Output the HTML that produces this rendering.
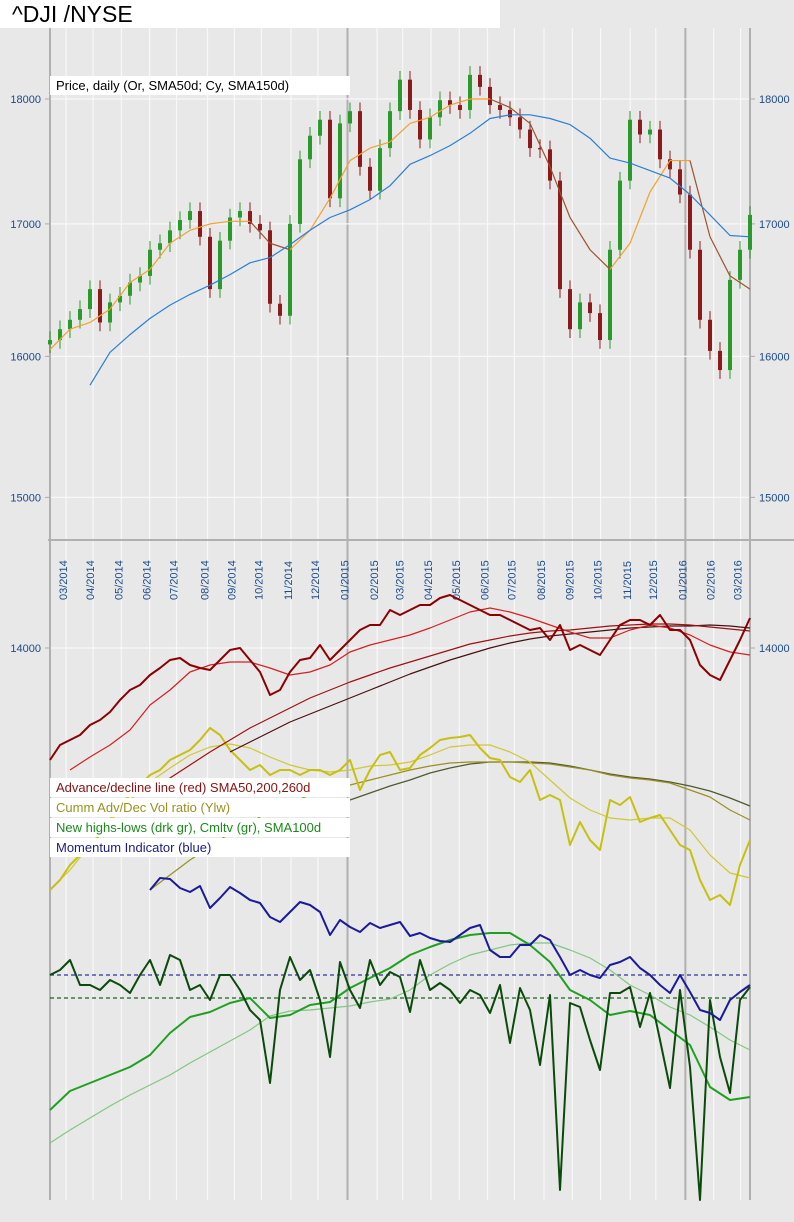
<!DOCTYPE html>
<html><head><meta charset="utf-8">
<style>
html,body{margin:0;padding:0;background:#e8e8e8;}
body{width:794px;height:1222px;overflow:hidden;position:relative;font-family:"Liberation Sans",sans-serif;}
#title{position:absolute;left:0;top:0;width:500px;height:28px;background:#fff;font-size:23px;line-height:28px;padding-left:12px;box-sizing:border-box;color:#000;}
svg{position:absolute;left:0;top:0;}
.lg{position:absolute;left:50px;width:300px;height:19px;background:#fff;font-size:13px;line-height:19px;padding-left:6px;box-sizing:border-box;}
</style></head>
<body>
<svg id="chart" width="794" height="1222"></svg>
<div id="title">^DJI /NYSE</div>
<div class="lg" style="top:76px;color:#000;">Price, daily (Or, SMA50d; Cy, SMA150d)</div>
<div class="lg" style="top:778px;color:#8b1010;">Advance/decline line (red) SMA50,200,260d</div>
<div class="lg" style="top:798px;color:#9a9020;">Cumm Adv/Dec Vol ratio (Ylw)</div>
<div class="lg" style="top:818px;color:#1a8a1a;">New highs-lows (drk gr), Cmltv (gr), SMA100d</div>
<div class="lg" style="top:838px;color:#1a1a8a;">Momentum Indicator (blue)</div>
<script>
// ---- data ----
const monthLabels=["03/2014","04/2014","05/2014","06/2014","07/2014","08/2014","09/2014","10/2014","11/2014","12/2014","01/2015","02/2015","03/2015","04/2015","05/2015","06/2015","07/2015","08/2015","09/2015","10/2015","11/2015","12/2015","01/2016","02/2016","03/2016"];
const monthDay=[12,32,53,74,94,117,137,157,179,199,221,243,262,283,304,325,345,367,388,409,431,450,472,493,513];
const priceTicks=[15000,16000,17000,18000];
const adTicks=[14000];
const priceClose=[16120,16200,16270,16350,16500,16250,16400,16450,16550,16600,16800,16850,16950,17030,17100,16900,16500,16870,17050,17100,17000,16950,16390,16300,17000,17510,17700,17830,17200,17800,17900,17450,17260,17600,17900,18160,17910,17670,17850,17990,17950,17910,18200,18100,17950,17910,17850,17750,17600,17590,17340,16500,16200,16400,16320,16120,16800,17340,17830,17710,17750,17510,17430,17230,16800,16270,16040,15900,16570,16800,17070];
const priceSma50=[16050,16200,16250,16350,16550,16650,16850,16950,17000,17020,17020,16850,16800,16950,17200,17500,17600,17650,17800,17850,17950,18000,18000,17930,17800,17450,17050,16800,16650,16850,17250,17500,17500,16900,16600,16500];
const priceSma150=[null,null,15790,16030,16160,16280,16380,16460,16530,16610,16700,16740,16840,16950,17050,17110,17190,17300,17470,17540,17620,17720,17840,17870,17870,17840,17790,17680,17520,17480,17420,17360,17230,17070,16910,16900];
const adLine=[12880,13030,13080,13130,13230,13280,13360,13480,13580,13630,13730,13800,13880,13900,13830,13800,13780,13880,13980,14000,13880,13760,13530,13580,13760,13880,13900,14030,13880,13980,14080,14180,14230,14230,14380,14330,14380,14430,14430,14500,14530,14480,14430,14380,14330,14330,14280,14230,14180,14200,14080,14230,13980,14030,13980,13930,14080,14230,14280,14280,14230,14330,14180,14180,14080,13830,13730,13680,13880,14080,14300];
const adSma50=[null,12780,12910,13030,13180,13430,13580,13760,13830,13860,13860,13800,13730,13760,13830,13960,14030,14080,14130,14200,14280,14360,14400,14360,14300,14230,14160,14100,14100,14180,14230,14200,14130,14030,13960,13930];
const adSma200=[null,null,null,null,null,12600,12700,12830,12960,13080,13200,13300,13400,13500,13580,13660,13730,13800,13860,13920,13980,14040,14080,14120,14150,14170,14180,14200,14220,14230,14240,14240,14230,14210,14190,14170];
const adSma260=[null,null,null,null,null,null,null,null,null,12960,13060,13160,13260,13340,13420,13500,13580,13660,13740,13810,13880,13940,14000,14050,14090,14120,14140,14160,14180,14200,14210,14220,14220,14230,14220,14200];
const volRatio=[10,20,35,45,55,65,80,95,105,115,125,130,140,145,150,160,172,165,150,140,130,135,125,130,130,125,130,130,125,130,140,110,130,145,148,130,132,145,152,160,162,163,165,152,142,140,123,118,130,100,105,100,55,78,60,50,100,95,103,78,82,85,70,55,50,20,0,5,-5,35,60];
const volSmaFast=[10,30,55,78,100,118,132,145,153,156,152,143,135,130,128,130,134,135,138,145,153,155,155,148,138,120,102,90,82,80,82,82,70,45,27,22];
const volSmaMid=[null,null,null,null,null,10,25,40,53,67,78,88,97,105,110,115,120,125,130,134,137,138,138,138,137,136,133,130,125,122,120,117,110,103,90,80];
const volSmaSlow=[null,null,null,null,null,null,null,null,null,null,null,null,null,null,null,100,107,114,120,127,132,136,138,138,138,137,134,130,126,123,121,118,114,109,102,94];
const momentum=[null,null,null,null,null,null,null,null,null,null,85,97,96,87,83,89,67,77,88,82,75,72,58,53,63,73,70,63,40,55,48,43,52,47,50,53,39,42,37,34,33,40,47,50,25,18,18,30,30,40,35,18,0,5,0,-3,10,13,18,7,0,-10,-18,0,-17,-35,-38,-45,-25,-17,-10];
const highsLows=[23,28,38,13,13,8,18,13,5,23,38,13,43,38,8,13,-2,23,23,8,-12,-22,-85,8,41,18,28,-2,-59,36,8,-10,38,13,26,21,-14,38,8,15,8,-5,8,3,-15,13,-45,10,-12,-67,3,-192,-5,-9,-42,-72,5,5,11,-29,5,-42,-90,8,-69,-202,-2,-59,-95,-2,11];
const hlCumulative=[90,109,117,125,133,145,167,183,188,197,202,182,185,195,198,212,222,232,245,253,260,265,267,267,255,238,210,200,185,189,185,170,155,113,100,103];
const hlSma100=[57,70,82,94,105,115,125,137,148,159,170,184,189,190,192,194,198,201,210,225,236,245,250,255,257,257,250,242,230,215,205,193,185,173,160,150];

// ---- layout / scales ----
const X0=50,X1=750,NDAYS=520;
const svg=document.getElementById('chart');
const NS='http://www.w3.org/2000/svg';
function el(tag,attrs,parent){const e=document.createElementNS(NS,tag);for(const k in attrs)e.setAttribute(k,attrs[k]);(parent||svg).appendChild(e);return e;}
function xIdx(i,n){return X0+i*(X1-X0)/(n-1);}
function xDay(d){return X0+d*(X1-X0)/NDAYS;}
const yPrice=v=>99+2185*Math.log(18000/v);
const yAD=v=>648-(v-14000)*0.1;
const yVol=v=>900-v;
const yMom=v=>975-v;
const yHL=v=>998-v;
const yCum=v=>1200-v;

el('rect',{x:0,y:0,width:794,height:1222,fill:'#e8e8e8'});
monthLabels.forEach((m,i)=>{
  const x=xDay(monthDay[i]);
  const yr=m.startsWith('01/');
  const g=el('line',{x1:x,x2:x,y1:28,y2:1200,stroke:yr?'#b0b0b0':'#f8f8f8','stroke-width':yr?2:1.2});
  
  
  const t=el('text',{x:0,y:0,transform:`translate(${x+1},600) rotate(-90)`,'font-size':'11','fill':'#1a4a8a','font-family':'Liberation Sans, sans-serif'});
  t.textContent=m;
  
  
});
priceTicks.forEach(v=>{
  const y=yPrice(v);
  const l=el('line',{x1:X0,x2:X1,y1:y,y2:y,stroke:'#f8f8f8','stroke-width':1.2});
  
  
  el('line',{x1:45,x2:50,y1:y,y2:y,stroke:'#aaa'});
  el('line',{x1:750,x2:755,y1:y,y2:y,stroke:'#aaa'});
  const a=el('text',{x:41,y:y+4,'text-anchor':'end','font-size':'11',fill:'#1a4a8a'});a.textContent=v;
  
  
  const b=el('text',{x:759,y:y+4,'font-size':'11',fill:'#1a4a8a'});b.textContent=v;
  
  
});
adTicks.forEach(v=>{
  const y=yAD(v);
  el('line',{x1:X0,x2:X1,y1:y,y2:y,stroke:'#f8f8f8','stroke-width':1.2});
  el('line',{x1:45,x2:50,y1:y,y2:y,stroke:'#aaa'});
  el('line',{x1:750,x2:755,y1:y,y2:y,stroke:'#aaa'});
  const a=el('text',{x:41,y:y+4,'text-anchor':'end','font-size':'11',fill:'#1a4a8a'});a.textContent=v;
  
  
  const b=el('text',{x:759,y:y+4,'font-size':'11',fill:'#1a4a8a'});b.textContent=v;
  
  
});
el('line',{x1:50,x2:50,y1:28,y2:1200,stroke:'#b0b0b0','stroke-width':2});
el('line',{x1:750,x2:750,y1:28,y2:1200,stroke:'#b0b0b0','stroke-width':2});
el('line',{x1:48,x2:794,y1:540,y2:540,stroke:'#b0b0b0','stroke-width':2});

function line(arr,yf,color,w,name,dash){
  let d='',pen=false;
  arr.forEach((v,i)=>{if(v===null){pen=false;return;}d+=(pen?'L':'M')+xIdx(i,arr.length).toFixed(1)+' '+yf(v).toFixed(1);pen=true;});
  const p=el('path',{d:d,fill:'none',stroke:color,'stroke-width':w,'stroke-linejoin':'round'});
  if(dash)p.setAttribute('stroke-dasharray',dash);
  
  
  return p;
}

priceClose.forEach((c,i)=>{
  const o=i>0?priceClose[i-1]:c*0.998;
  const x=xIdx(i,priceClose.length);
  const hi=Math.max(o,c)*1.004,lo=Math.min(o,c)*0.996;
  const col=c>=o?'#2a9a2a':'#8b1a1a';
  const w=el('line',{x1:x,x2:x,y1:yPrice(hi),y2:yPrice(lo),stroke:col,'stroke-width':1});
  
  
  const top=yPrice(Math.max(o,c)),bot=yPrice(Math.min(o,c));
  const b=el('rect',{x:x-2,y:top,width:4,height:Math.max(1,bot-top),fill:col});
  
  
});
for(let i=1;i<priceSma50.length;i++){
  const a=priceSma50[i-1],b=priceSma50[i];
  const s=el('line',{x1:xIdx(i-1,priceSma50.length),x2:xIdx(i,priceSma50.length),y1:yPrice(a),y2:yPrice(b),stroke:b>=a?'#f5a030':'#a0522d','stroke-width':1.2});
  
  
}
line(priceSma150,yPrice,'#2a7fd4',1.2,'price-sma150-line');

line(volSmaSlow,yVol,'#505a30',1.3,'vol-sma-slow-line');
line(volSmaMid,yVol,'#9a9020',1.2,'vol-sma-mid-line');
line(volSmaFast,yVol,'#d0c830',1.2,'vol-sma-fast-line');
line(volRatio,yVol,'#c8c010',2,'vol-ratio-line');
line(adSma260,yAD,'#4a1010',1.2,'ad-sma260-line');
line(adSma200,yAD,'#a01010',1.2,'ad-sma200-line');
line(adSma50,yAD,'#d42020',1.2,'ad-sma50-line');
line(adLine,yAD,'#8b0000',2,'ad-line');
const z1=el('line',{x1:X0,x2:X1,y1:yMom(0),y2:yMom(0),stroke:'#3030a0','stroke-width':1.2,'stroke-dasharray':'4,3'});


const z2=el('line',{x1:X0,x2:X1,y1:yHL(0),y2:yHL(0),stroke:'#206020','stroke-width':1.2,'stroke-dasharray':'4,3'});


line(hlSma100,yCum,'#80c880',1.2,'hl-sma100-line');
line(hlCumulative,yCum,'#20a020',2,'hl-cumulative-line');
line(highsLows,yHL,'#0a4a0a',2,'highs-lows-line');
line(momentum,yMom,'#1a1a9a',2,'momentum-line');
</script>
</body></html>
